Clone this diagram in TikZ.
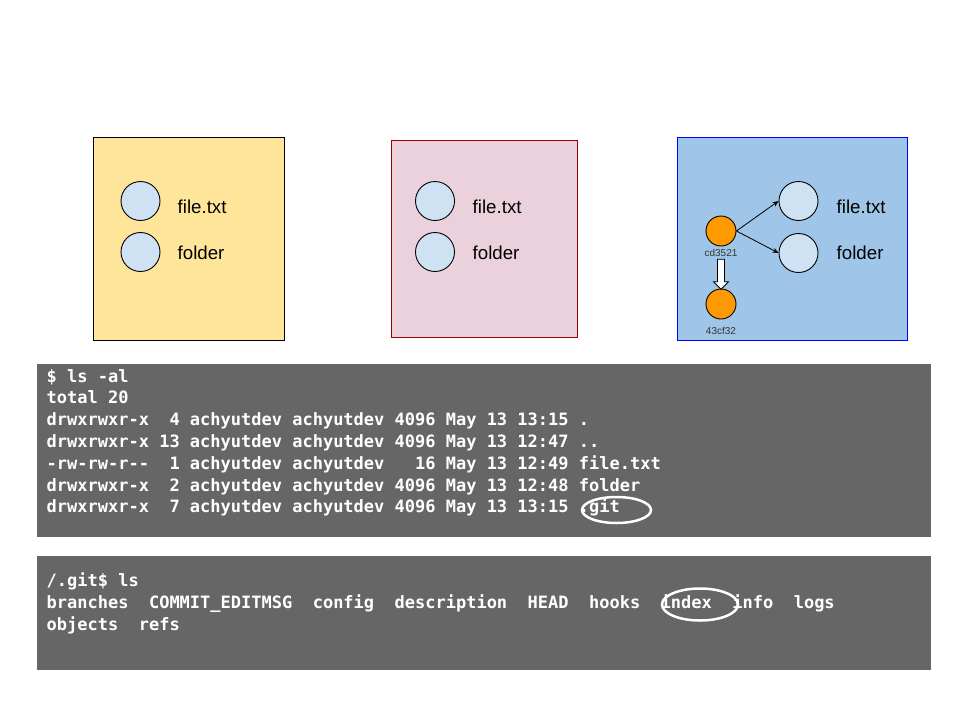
\documentclass[tikz,border=0pt]{standalone}
\usepackage{fontspec}
\setmainfont{Liberation Sans}
\setmonofont{DejaVu Sans Mono}
\usetikzlibrary{arrows.meta}
\definecolor{MyYellow}{HTML}{FFE599}
\definecolor{MyPink}{HTML}{EAD1DC}
\definecolor{MyDarkRed}{HTML}{990000}
\definecolor{MyBlue}{HTML}{9FC5E8}
\definecolor{MyLightBlue}{HTML}{CFE2F3}
\definecolor{MyOrange}{HTML}{FF9900}
\definecolor{MyTermGrey}{HTML}{666666}

\begin{document}
\begin{tikzpicture}[x=1pt, y=-1pt]
        \tikzstyle{every node}=[font=\fontsize{18.7}{22}\selectfont]
        \tikzstyle{area}=[line width=1pt]
        \tikzstyle{file}=[circle, draw, line width=0.9pt, fill=MyLightBlue, minimum size=39pt, inner sep=0pt]
        \tikzstyle{fname}=[anchor=base west, inner sep=0pt]
        \tikzstyle{commit}=[circle, draw, line width=0.9pt, fill=MyOrange, minimum size=30pt, inner sep=0pt]
        \tikzstyle{hash}=[anchor=base, inner sep=0pt, text=black!80, font=\fontsize{10}{12}\selectfont]
        \tikzstyle{link}=[->, >={Stealth[length=6pt, width=5pt]}, line width=0.8pt]
        \tikzstyle{term}=[anchor=base west, inner sep=0pt, text=white, font=\ttfamily\bfseries\fontsize{17}{20}\selectfont]
        \tikzstyle{ring}=[draw=white, line width=2.5pt]
        \useasboundingbox[fill=white] (0,0) rectangle (960,720);

        % working directory
        \draw[area, fill=MyYellow] (93.5,137.5) rectangle (284.5,340);
        \node[file] (wfile) at (140.5,201) {};
        \node[file] (wfolder) at (140.5,252) {};
        \node[fname] (wfilelbl) at (177.5,213) {file.txt};
        \node[fname] (wfolderlbl) at (177.5,259.5) {folder};

        % staging area
        \draw[area, draw=MyDarkRed, fill=MyPink] (391,140.5) rectangle (577.5,337.5);
        \node[file] (sfile) at (435,201) {};
        \node[file] (sfolder) at (435,252) {};
        \node[fname] (sfilelbl) at (472.5,213) {file.txt};
        \node[fname] (sfolderlbl) at (472.5,259.5) {folder};

        % repository
        \draw[area, draw=blue, fill=MyBlue] (677.5,137.5) rectangle (907.5,340.5);
        \node[file] (rfile) at (798.5,201) {};
        \node[file] (rfolder) at (798.5,253) {};
        \node[fname] (rfilelbl) at (836.5,213) {file.txt};
        \node[fname] (rfolderlbl) at (836.5,259.5) {folder};
        \node[commit] (cd) at (721,231) {};
        \node[hash] (cdlbl) at (721,256.5) {cd3521};
        \node[commit] (parent) at (721,304) {};
        \node[hash] (parentlbl) at (721,334) {43cf32};
        \draw[link] (cd.east) -- (rfile.west);
        \draw[link] (cd.east) -- (rfolder.west);
        \draw[line width=0.8pt, fill=white] (cdlbl.south) ++(-3.5,2.5) -- ++(7,0) -- ++(0,22.5)
        -- ++(4,0) -- ++(-7.5,7.5) -- ++(-7.5,-7.5) -- ++(4,0) -- cycle;

        % ls -al
        \fill[MyTermGrey] (37,364) rectangle (931,537);
        \foreach \txt [count=\i] in {\$ ls -al, total 20,
          drwxrwxr-x~~4 achyutdev achyutdev 4096 May 13 13:15 .,
          drwxrwxr-x 13 achyutdev achyutdev 4096 May 13 12:47 ..,
          -rw-rw-r--~~1 achyutdev achyutdev~~~16 May 13 12:49 file.txt,
          drwxrwxr-x~~2 achyutdev achyutdev 4096 May 13 12:48 folder,
          drwxrwxr-x~~7 achyutdev achyutdev 4096 May 13 13:15 .git}
          \node[term] (ls\i) at (46.5,{382+21.8*(\i-1)}) {\txt};
        \draw[ring] (616.5,510) ellipse [x radius=34.5pt, y radius=13pt];

        % ls .git
        \fill[MyTermGrey] (37,556) rectangle (931,670);
        \foreach \txt [count=\i] in {/.git\$ ls,
          branches~~COMMIT\_EDITMSG~~config~~description~~HEAD~~hooks~~index~~info~~logs,
          objects~~refs}
          \node[term] (git\i) at (46.5,{586+22*(\i-1)}) {\txt};
        \draw[ring] (700,604.5) ellipse [x radius=38pt, y radius=16pt];
      \end{tikzpicture}
\end{document}
